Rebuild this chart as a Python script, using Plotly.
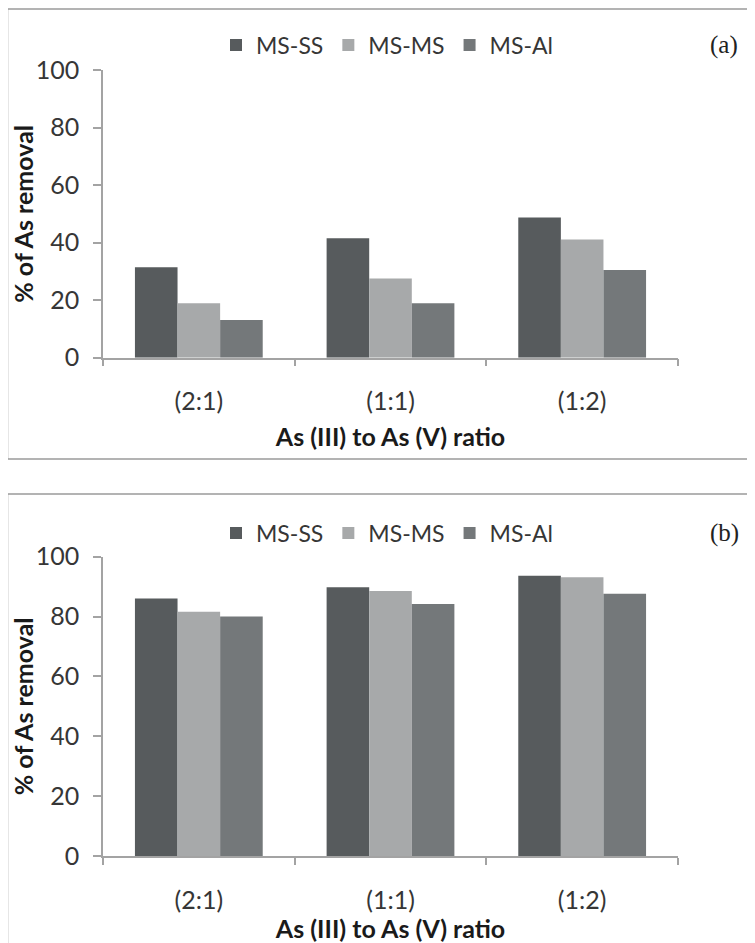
import plotly.graph_objects as go

categories = ["(2:1)", "(1:1)", "(1:2)"]
series_names = ["MS-SS", "MS-MS", "MS-Al"]
series_colors = ["#575b5d", "#a7a9aa", "#74787a"]

# Panel (a)
a_ms_ss = [31.4, 41.5, 48.7]
a_ms_ms = [18.9, 27.5, 41.1]
a_ms_al = [13.1, 18.9, 30.5]

# Panel (b)
b_ms_ss = [86.0, 89.8, 93.6]
b_ms_ms = [81.6, 88.5, 93.1]
b_ms_al = [80.0, 84.2, 87.6]

y_ticks = [0, 20, 40, 60, 80, 100]
x_title = "As (III) to As (V) ratio"
y_title = "% of As removal"
panel_labels = ["(a)", "(b)"]

# the page body has an 8px default margin; build the figure to fit the window
OFF = 8
W, H = 755 - OFF, 943 - OFF
FONT = "Lato, 'Open Sans', sans-serif"

def px_x(p):
    return (p - OFF) / W

def px_y(p):
    return 1 - (p - OFF) / H

fig = go.Figure()

panel_a = [a_ms_ss, a_ms_ms, a_ms_al]
panel_b = [b_ms_ss, b_ms_ms, b_ms_al]

for name, color, vals in zip(series_names, series_colors, panel_a):
    fig.add_trace(go.Bar(x=categories, y=vals, name=name, marker=dict(color=color, line=dict(width=0)),
                         xaxis="x", yaxis="y", legend="legend"))
for name, color, vals in zip(series_names, series_colors, panel_b):
    fig.add_trace(go.Bar(x=categories, y=vals, name=name, marker=dict(color=color, line=dict(width=0)),
                         xaxis="x2", yaxis="y2", legend="legend2"))

axis_color = "#a3a3a3"
tick_font = dict(family=FONT, size=25, color="#363636")
title_font = dict(family=FONT, size=25, color="#1a1a1a", weight="bold")

def xaxis(domain, anchor, standoff):
    return dict(domain=domain, anchor=anchor, type="category", showline=True, linecolor=axis_color,
                linewidth=1.5, ticks="outside", tickson="boundaries", ticklen=7, tickcolor=axis_color,
                tickwidth=1.5, tickfont=tick_font, ticklabelstandoff=21, showgrid=False, zeroline=False,
                automargin=False, fixedrange=True,
                title=dict(text=x_title, font=title_font, standoff=standoff))

def yaxis(domain, anchor):
    return dict(domain=domain, anchor=anchor, range=[0, 100], tickvals=y_ticks, showline=True,
                linecolor=axis_color, linewidth=1.5, ticks="outside", ticklen=8, tickcolor=axis_color,
                tickwidth=1.5, tickfont=tick_font, ticklabelstandoff=9, showgrid=False, zeroline=False,
                automargin=False, fixedrange=True,
                title=dict(text=y_title, font=title_font, standoff=0))

xdom = [px_x(103), px_x(678)]
fig.update_layout(
    width=W, height=H,
    margin=dict(l=0, r=0, t=0, b=0),
    paper_bgcolor="white", plot_bgcolor="white",
    barmode="group", bargap=1/3, bargroupgap=0,
    font=dict(family=FONT, color="#363636"),
    xaxis=xaxis(xdom, "y", 14),
    yaxis=yaxis([px_y(357.7), px_y(70)], "x"),
    xaxis2=xaxis(xdom, "y2", 2),
    yaxis2=yaxis([px_y(856), px_y(556.7)], "x2"),
    legend=dict(orientation="h", x=px_x(387), y=px_y(45), xanchor="center", yanchor="middle",
                font=dict(family=FONT, size=23, color="#363636"), bgcolor="rgba(0,0,0,0)",
                itemclick=False, itemdoubleclick=False),
    legend2=dict(orientation="h", x=px_x(387), y=px_y(533), xanchor="center", yanchor="middle",
                 font=dict(family=FONT, size=23, color="#363636"), bgcolor="rgba(0,0,0,0)",
                 itemclick=False, itemdoubleclick=False),
    showlegend=True,
)

# Panel frames
frame_color = "#9a9a9a"
fig.add_shape(type="rect", xref="paper", yref="paper", x0=px_x(7.5), x1=px_x(775), y0=px_y(459), y1=px_y(9),
              line=dict(color=frame_color, width=1.5), fillcolor="rgba(0,0,0,0)", layer="below")
fig.add_shape(type="rect", xref="paper", yref="paper", x0=px_x(7.5), x1=px_x(775), y0=px_y(965), y1=px_y(494),
              line=dict(color=frame_color, width=1.5), fillcolor="rgba(0,0,0,0)", layer="below")

for lbl, ypix in zip(panel_labels, [45, 533]):
    fig.add_annotation(text=lbl, xref="paper", yref="paper", x=px_x(724), y=px_y(ypix),
                       xanchor="center", yanchor="middle", showarrow=False,
                       font=dict(family="'Liberation Serif', 'DejaVu Serif', serif", size=25, color="#222222"))

fig.write_html("out.html")
